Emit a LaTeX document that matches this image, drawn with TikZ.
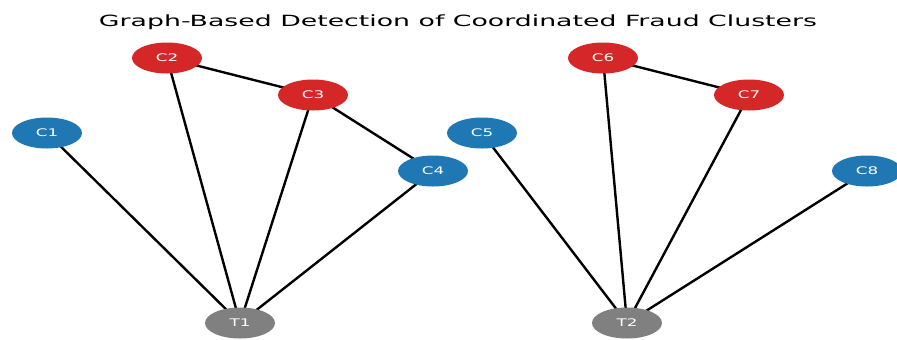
\documentclass[tikz,border=0pt]{standalone}
\usepackage{fontspec}
\usepackage{graphicx}
\setmainfont{DejaVu Sans}
\usetikzlibrary{shapes.geometric}
\definecolor{cblue}{HTML}{1F77B4}
\definecolor{cred}{HTML}{D62728}
\definecolor{cgray}{HTML}{808080}
\pgfdeclarelayer{bg}
\pgfsetlayers{bg,main}
\tikzset{
  vtx/.style={ellipse, minimum width=70bp, minimum height=31bp, inner sep=0pt, text=white,
    font=\fontsize{10.5}{11}\selectfont},
  acct/.style={vtx, fill=cblue},
  fraud/.style={vtx, fill=cred},
  tgt/.style={vtx, fill=cgray},
  edge/.style={line width=2.4bp, black},
}
\newcommand{\wlab}[1]{\scalebox{1.6}[1]{#1}}
\begin{document}
\begin{tikzpicture}[x=1bp,y=-1bp]
\useasboundingbox (0,0) rectangle (897,339);
\node[anchor=base, inner sep=0pt] (title) at (458,26)
  {\resizebox{718bp}{\height}{\fontsize{15.5}{18}\selectfont Graph-Based Detection of Coordinated Fraud Clusters}};
\node[acct]  (C1) at (47,133)  {\wlab{C1}};
\node[fraud] (C2) at (167,58)  {\wlab{C2}};
\node[fraud] (C3) at (313,95)  {\wlab{C3}};
\node[acct]  (C4) at (433,171) {\wlab{C4}};
\node[acct]  (C5) at (482,133) {\wlab{C5}};
\node[fraud] (C6) at (603,58)  {\wlab{C6}};
\node[fraud] (C7) at (749,95)  {\wlab{C7}};
\node[acct]  (C8) at (867,171) {\wlab{C8}};
\node[tgt]   (T1) at (240,323) {\wlab{T1}};
\node[tgt]   (T2) at (627,323) {\wlab{T2}};
\begin{pgfonlayer}{bg}
\fill[white] (0,0) rectangle (897,339);
\draw[edge] (C1.center) -- (T1.center);
\draw[edge] (C2.center) -- (T1.center);
\draw[edge] (C3.center) -- (T1.center);
\draw[edge] (C4.center) -- (T1.center);
\draw[edge] (C2.center) -- (C3.center);
\draw[edge] (C3.center) -- (C4.center);
\draw[edge] (C5.center) -- (T2.center);
\draw[edge] (C6.center) -- (T2.center);
\draw[edge] (C7.center) -- (T2.center);
\draw[edge] (C8.center) -- (T2.center);
\draw[edge] (C6.center) -- (C7.center);
\end{pgfonlayer}
\end{tikzpicture}
\end{document}
